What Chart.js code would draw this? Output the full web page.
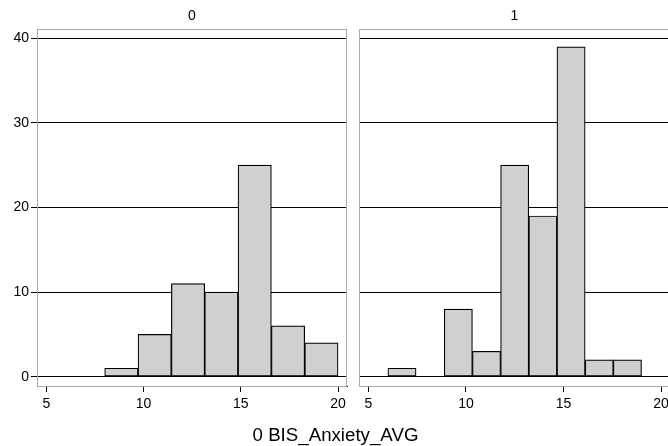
<!DOCTYPE html>
<html lang="en">
<head>
    <meta charset="UTF-8">
    <title>BIS_Anxiety_AVG histogram</title>
    <script src="https://cdn.jsdelivr.net/npm/chart.js"></script>
    <style>
        html, body {margin: 0; padding: 0; background: #fff; overflow: hidden;}
        body {width: 668px; height: 446px; position: relative; font-family: 'Liberation Sans', Arial, sans-serif;}
        canvas {position: absolute; top: 0;}
        .lbl {position: absolute; text-align: center; color: #000; white-space: nowrap;}
        .head {font-size: 14px; line-height: 16px; top: 7px;}
        #xtitle {left: 0; width: 671px; top: 424px; font-size: 18.7px; line-height: 22px;}
    </style>
</head>
<body>
    <canvas id="panel0" width="352" height="446" style="left:0;width:352px;height:446px"></canvas>
    <canvas id="panel1" width="318" height="446" style="left:352px;width:318px;height:446px"></canvas>
    <div class="lbl head" style="left:37px;width:310px">0</div>
    <div class="lbl head" style="left:359px;width:311px">1</div>
    <div class="lbl" id="xtitle">0 BIS_Anxiety_AVG</div>
    <script>
        // bin edges and counts
        const edges0 = [8, 9.714, 11.429, 13.143, 14.857, 16.571, 18.286, 20];
        const counts0 = [1, 5, 11, 10, 25, 6, 4];
        const edges1 = [6, 7.444, 8.889, 10.333, 11.778, 13.222, 14.667, 16.111, 17.556, 19];
        const counts1 = [1, null, 8, 3, 25, 19, 39, 2, 2];
        const xTicks = [5, 10, 15, 20];
        const yTicks = [0, 10, 20, 30, 40];

        const FONT = "'Liberation Sans', Arial, sans-serif";

        // light grey plot region outline
        const frame = {
            id: 'frame',
            beforeDatasetsDraw(chart) {
                const a = chart.chartArea, c = chart.ctx;
                c.save();
                c.strokeStyle = '#a8a8a8';
                c.lineWidth = 1;
                c.strokeRect(Math.round(a.left) + 0.5, Math.round(a.top) + 0.5,
                    Math.round(a.right - a.left) - 1, Math.round(a.bottom - a.top));
                c.restore();
            }
        };

        function makePanel(id, edges, counts, showY, yWidth, pad) {
            const pts = counts.map((v, i) => ({x: (edges[i] + edges[i + 1]) / 2, y: v}));
            return new Chart(document.getElementById(id), {
                type: 'bar',
                data: {
                    datasets: [{
                        data: pts,
                        backgroundColor: '#d0d0d0',
                        borderColor: '#000',
                        borderWidth: 1.2,
                        borderSkipped: false,
                        barPercentage: 1,
                        categoryPercentage: 1
                    }]
                },
                plugins: [frame],
                options: {
                    responsive: false,
                    animation: false,
                    layout: {padding: pad},
                    plugins: {legend: {display: false}, tooltip: {enabled: false}},
                    scales: {
                        x: {
                            type: 'linear',
                            offset: false,
                            min: 4.52, max: 20.46,
                            afterBuildTicks: s => { s.ticks = xTicks.map(v => ({value: v})); },
                            afterFit: s => { s.height = 30; s.paddingLeft = 0; s.paddingRight = 0; },
                            grid: {offset: false, drawOnChartArea: false, drawTicks: true, tickLength: 6, color: '#000'},
                            border: {display: true, color: '#000', width: 1},
                            ticks: {color: '#000', padding: 4, font: {family: FONT, size: 14}, maxRotation: 0}
                        },
                        y: {
                            min: -1.1, max: 41.1,
                            afterBuildTicks: s => { s.ticks = yTicks.map(v => ({value: v})); },
                            afterFit: s => { s.width = yWidth; s.paddingTop = 0; s.paddingBottom = 0; },
                            grid: {drawOnChartArea: true, drawTicks: showY, tickLength: 6, color: '#000', lineWidth: 1},
                            border: {display: true, color: '#000', width: 1},
                            ticks: {display: showY, color: '#000', padding: 2, font: {family: FONT, size: 14}}
                        }
                    }
                }
            });
        }

        makePanel('panel0', edges0, counts0, true, 37, {left: 0, right: 5, top: 29, bottom: 30});
        makePanel('panel1', edges1, counts1, false, 7, {left: 0, right: 0, top: 29, bottom: 30});
    </script>
</body>
</html>
